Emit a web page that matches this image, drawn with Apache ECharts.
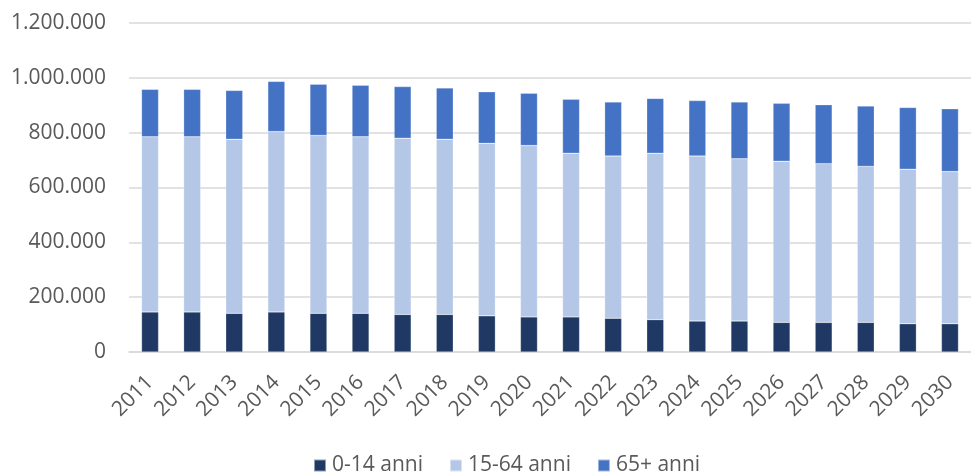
<!DOCTYPE html>
<html><head><meta charset="utf-8">
<script src="https://cdn.jsdelivr.net/npm/echarts@6/dist/echarts.min.js"></script>
<style>html,body{margin:0;padding:0;background:#fff}#c{width:971px;height:472px}</style>
</head><body><div id="c"></div>
<script>
var years = ['2011','2012','2013','2014','2015','2016','2017','2018','2019','2020','2021','2022','2023','2024','2025','2026','2027','2028','2029','2030'];
var age0_14 = [146000,146000,141000,146000,141000,141000,137000,137000,132000,128000,128000,123000,118000,113000,113000,108000,108000,108000,103000,103000];
var age15_64 = [639000,639000,635000,658000,649000,644000,643000,639000,629000,625000,597000,592000,607000,602000,592000,588000,579000,569000,564000,555000];
var age65plus = [173000,173000,178000,183000,187000,188000,188000,187000,188000,191000,197000,197000,200000,202000,207000,211000,215000,220000,225000,229000];
var seriesNames = ['0-14 anni','15-64 anni','65+ anni'];
var yTicks = [0,200000,400000,600000,800000,1000000,1200000];

var fontFam = '"Open Sans", "Noto Sans", sans-serif';
function fmt(v){ return String(v).replace(/\B(?=(\d{3})+(?!\d))/g, '.'); }
var chart = echarts.init(document.getElementById('c'), null, {renderer:'canvas'});
var colors = ['#1F3864','#B4C7E7','#4472C4'];
var datas = [age0_14, age15_64, age65plus];
chart.setOption({
  animation:false,
  color: colors,
  textStyle:{fontFamily:fontFam},
  grid:{left:129, top:23, width:854, height:329, containLabel:false},
  legend:{
    left:308, top:450,
    itemWidth:12, itemHeight:12, itemGap:26,
    icon:'rect',
    textStyle:{fontSize:21, color:'#595959', fontFamily:fontFam, padding:[0,0,0,1]},
    data: seriesNames
  },
  xAxis:{
    type:'category', data: years,
    axisLine:{lineStyle:{color:'#D9D9D9', width:1.5}},
    axisTick:{show:false},
    axisLabel:{rotate:45, fontSize:21, color:'#595959', margin:27, fontFamily:fontFam}
  },
  yAxis:{
    type:'value', min:yTicks[0], max:yTicks[yTicks.length-1], interval:200000,
    axisLine:{show:false}, axisTick:{show:false},
    splitLine:{lineStyle:{color:'#D9D9D9', width:1.5}},
    axisLabel:{fontSize:21, color:'#595959', margin:23, formatter:fmt, fontFamily:fontFam}
  },
  series: seriesNames.map(function(n,i){
    return {name:n, type:'bar', stack:'tot', data:datas[i], barWidth:17,
      itemStyle:{color:colors[i], borderColor:'rgba(255,255,255,0.5)', borderWidth:0.5}};
  })
});
</script></body></html>
